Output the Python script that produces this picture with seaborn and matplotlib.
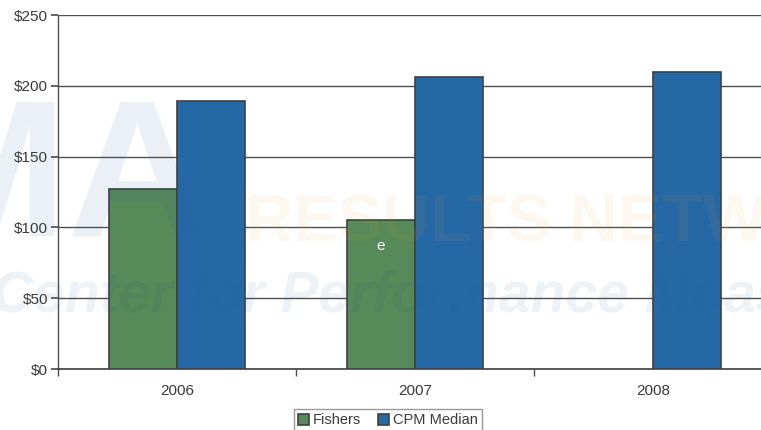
import matplotlib
matplotlib.use("Agg")
import matplotlib.pyplot as plt
import seaborn as sns
import pandas as pd
import numpy as np

years = ["2006", "2007", "2008"]
series = ["Fishers", "CPM Median"]
fishers = [127, 105, np.nan]
cpm_median = [189, 206, 210]
y_ticks = [0, 50, 100, 150, 200, 250]
colors = {"Fishers": "#568A58", "CPM Median": "#2568A6"}

df = pd.DataFrame({
    "Year": years * 2,
    "Series": ["Fishers"] * 3 + ["CPM Median"] * 3,
    "Value": fishers + cpm_median,
})

sns.set_theme(style="white")
plt.rcParams["font.family"] = ["Liberation Sans", "DejaVu Sans"]

fig = plt.figure(figsize=(7.61, 4.30), dpi=100)
ax = fig.add_axes([58 / 761, 61 / 430, 714 / 761, 354 / 430])

sns.barplot(data=df, x="Year", y="Value", hue="Series", order=years,
            hue_order=series, palette=colors, width=0.572, saturation=1,
            edgecolor="#404040", linewidth=1.2, ax=ax, zorder=3, legend=True)

ax.set_xlim(-0.5, 2.5)
ax.set_ylim(0, 250)
ax.set_yticks(y_ticks)
ax.set_yticklabels([f"${v}" for v in y_ticks])
ax.set_xlabel("")
ax.set_ylabel("")
ax.yaxis.grid(True, color="#505050", linewidth=1.0, zorder=1)
ax.set_axisbelow(True)
ax.xaxis.grid(False)

for s in ["top", "right"]:
    ax.spines[s].set_visible(False)
ax.spines["left"].set_color("#505050")
ax.spines["bottom"].set_color("#404040")
ax.spines["left"].set_linewidth(1.0)
ax.spines["bottom"].set_linewidth(1.2)

ax.tick_params(axis="y", which="major", left=True, length=5, color="#505050",
               labelsize=11, labelcolor="#3a3a3a", pad=2)
ax.tick_params(axis="x", which="major", bottom=False, labelsize=11,
               labelcolor="#3a3a3a", pad=5)
ax.set_xticks([-0.5, 0.5, 1.5, 2.5], minor=True)
ax.tick_params(axis="x", which="minor", bottom=True, length=5, color="#505050")

# label on 2007 Fishers bar
bar_2007 = ax.patches[1]
ax.text(bar_2007.get_x() + bar_2007.get_width() / 2, 87, "e", color="white",
        ha="center", va="center", fontsize=11, zorder=6)

# watermark (background logo text)
fig.text(-8 / 761, 1 - 312 / 430, "Center for Performance Measurement",
         family=["Liberation Sans", "DejaVu Sans"],
         fontweight="bold", fontstyle="italic", fontsize=41,
         color="#1F5FA0", alpha=0.08, ha="left", va="baseline", zorder=10)
fig.text(245 / 761, 1 - 242 / 430, "RESULTS NETWORK",
         family=["Liberation Sans", "DejaVu Sans"],
         fontweight="bold", fontsize=48, color="#F0A020", alpha=0.07,
         ha="left", va="baseline", zorder=10)
fig.text(-95 / 761, 1 - 236 / 430, "MA",
         family=["Liberation Sans", "DejaVu Sans"],
         fontweight="bold", fontsize=140, color="#1F5FA0", alpha=0.09,
         ha="left", va="baseline", zorder=10)

handles, labels = ax.get_legend_handles_labels()
ax.get_legend().remove()
leg = fig.legend(handles, labels, loc="upper center",
                 bbox_to_anchor=(388 / 761, 1 - 409 / 430), ncol=2,
                 frameon=True, fancybox=False, edgecolor="#808080",
                 fontsize=10.5, handlelength=0.75, handleheight=0.75,
                 handletextpad=0.25, columnspacing=1.2, borderpad=0.3,
                 borderaxespad=0)
leg.get_frame().set_linewidth(1.0)
for t in leg.get_texts():
    t.set_color("#3a3a3a")

fig.savefig("out.png", dpi=100)
